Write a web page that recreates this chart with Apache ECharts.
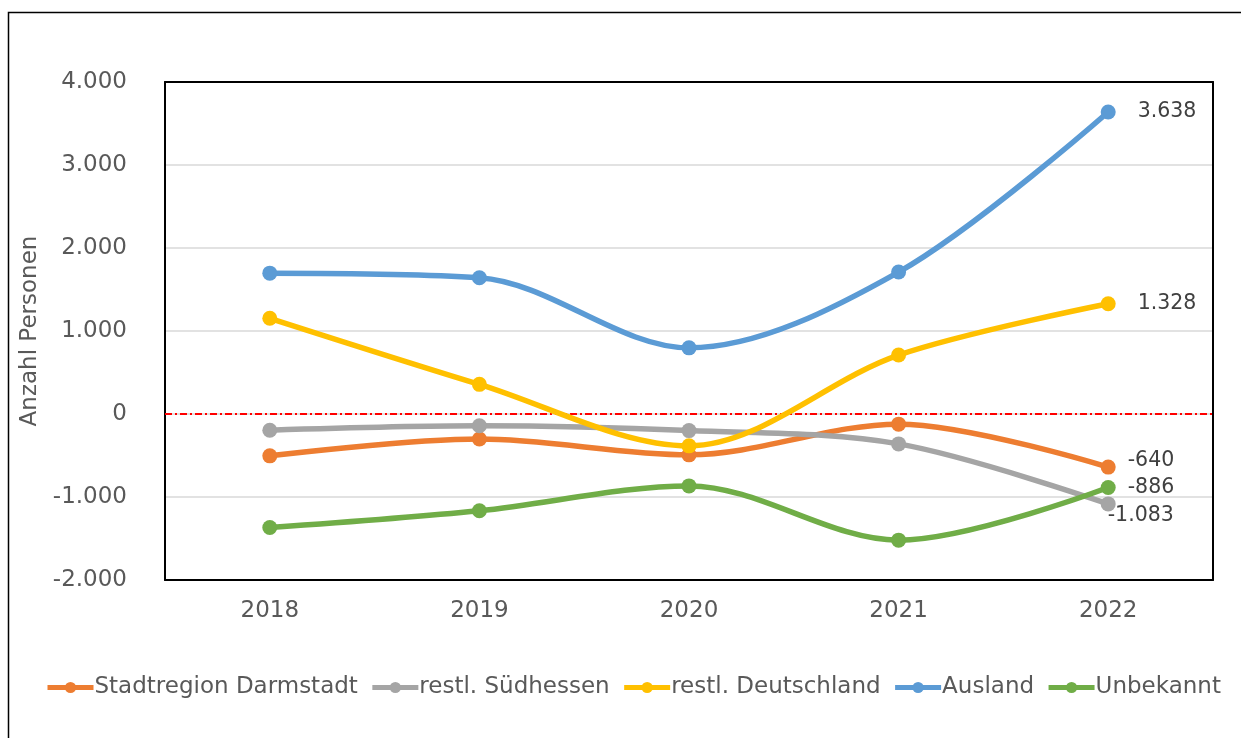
<!DOCTYPE html>
<html>
<head>
<meta charset="utf-8">
<script src="https://cdn.jsdelivr.net/npm/echarts@6/dist/echarts.min.js"></script>
<style>
  html, body { margin: 0; padding: 0; background: #fff; }
  #chart { width: 1241px; height: 738px; }
</style>
</head>
<body>
<div id="chart"></div>
<script>
// Jahre
const years = ["2018", "2019", "2020", "2021", "2022"];

// Salden je Herkunft
const stadtregion = [-504, -302, -492, -122, -640];
const suedhessen = [-195, -142, -200, -360, -1083];
const deutschland = [1153, 357, -384, 710, 1328];
const ausland = [1697, 1642, 797, 1710, 3638];
const unbekannt = [-1368, -1166, -866, -1520, -886];

const seriesNames = ["Stadtregion Darmstadt", "restl. Südhessen", "restl. Deutschland", "Ausland", "Unbekannt"];
const seriesColors = ["#ED7D31", "#A5A5A5", "#FFC000", "#5B9BD5", "#70AD47"];
const seriesValues = [stadtregion, suedhessen, deutschland, ausland, unbekannt];

// Label-Versatz für den letzten Punkt
const lastLabelOffset = [[0, -6], [-20, 12], [10, 0], [10, 0], [0, 0]];

const FONT = "DejaVu Sans";
const TEXT = "#595959";

// Zahlen im deutschen Format
const fmt = (v) => {
  const s = Math.abs(Math.round(v)).toString().replace(/\B(?=(\d{3})+(?!\d))/g, ".");
  return (v < 0 ? "-" : "") + s;
};

const chart = echarts.init(document.getElementById("chart"));

const series = seriesValues.map((vals, i) => ({
  name: seriesNames[i],
  type: "line",
  smooth: 0.33,
  symbol: "circle",
  symbolSize: 15,
  z: 3 + i,
  itemStyle: { color: seriesColors[i] },
  lineStyle: { width: 5.5, color: seriesColors[i] },
  data: vals.map((v, j) => {
    if (j !== vals.length - 1) return v;
    return {
      value: v,
      label: {
        show: true,
        position: "right",
        distance: 12,
        offset: lastLabelOffset[i],
        formatter: (p) => fmt(p.value),
        color: "#404040",
        fontFamily: FONT,
        fontSize: 20.5
      }
    };
  }),
  markLine: i === 0 ? {
    silent: true,
    symbol: "none",
    label: { show: false },
    lineStyle: { color: "#FF0000", type: [7, 3, 2, 3], width: 2, opacity: 1 },
    emphasis: { disabled: true },
    data: [{ yAxis: 0 }],
    z: 2
  } : undefined
}));

const frameAxis = { show: true, onZero: false, lineStyle: { color: "#000", width: 2 } };

const option = {
  backgroundColor: "#fff",
  animation: false,
  textStyle: { fontFamily: FONT },
  graphic: [{
    type: "rect",
    left: 6, top: 10,
    shape: { width: 1300, height: 800 },
    style: { fill: "none", stroke: "#000", lineWidth: 1.5 },
    silent: true
  }],
  grid: {
    left: 165, right: 28, top: 82, bottom: 158
  },
  legend: {
    bottom: 34,
    left: 40,
    itemWidth: 46,
    itemHeight: 14,
    itemGap: 12,
    lineStyle: { width: 5 },
    textStyle: { color: TEXT, fontFamily: FONT, fontSize: 23, padding: [0, 0, 0, -4] },
    data: seriesNames
  },
  xAxis: [{
    type: "category",
    data: years,
    boundaryGap: true,
    axisLine: frameAxis,
    axisTick: { show: false },
    axisLabel: { color: TEXT, fontFamily: FONT, fontSize: 23, margin: 20 },
    z: 10
  }, {
    type: "category",
    data: years,
    position: "top",
    axisLine: frameAxis,
    axisTick: { show: false },
    axisLabel: { show: false },
    z: 10
  }],
  yAxis: [{
    type: "value",
    min: -2000,
    max: 4000,
    interval: 1000,
    name: "Anzahl Personen",
    nameLocation: "middle",
    nameGap: 121,
    nameTextStyle: { color: TEXT, fontFamily: FONT, fontSize: 23 },
    axisLine: frameAxis,
    axisTick: { show: false },
    splitLine: { lineStyle: { color: "#D9D9D9", width: 1.5 } },
    axisLabel: {
      color: TEXT, fontFamily: FONT, fontSize: 23, margin: 38,
      formatter: (v) => fmt(v)
    }
  }, {
    type: "value",
    min: -2000,
    max: 4000,
    interval: 1000,
    position: "right",
    axisLine: frameAxis,
    axisTick: { show: false },
    splitLine: { show: false },
    axisLabel: { show: false },
    z: 10
  }],
  series: series
};

chart.setOption(option);
</script>
</body>
</html>
